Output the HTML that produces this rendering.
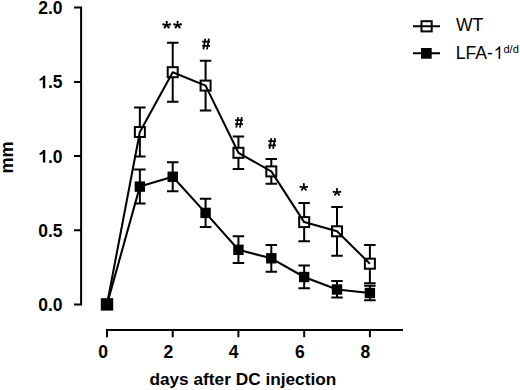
<!DOCTYPE html>
<html><head><meta charset="utf-8"><style>
html,body{margin:0;padding:0;background:#fff;}
svg{display:block;}
text{font-family:"Liberation Sans",sans-serif;fill:#000;}
.b{font-weight:bold;}
</style></head><body>
<svg width="520" height="390" viewBox="0 0 520 390">
<g stroke="#000" stroke-width="2.00" fill="none" stroke-linecap="butt">
<path d="M74 7.5H81.1V305.5 M74 81.9H81.1 M74 156.1H81.1 M74 230.2H81.1 M74 304.4H81.1"/>
<path d="M107 337.3V330.1H403 M172.7 330.1V337.3 M238.4 330.1V337.3 M304.2 330.1V337.3 M369.9 330.1V337.3"/>
<path d="M139.86 107.50V156.40 M134.11 107.50H145.61 M134.11 156.40H145.61"/>
<path d="M172.72 42.80V101.70 M166.97 42.80H178.47 M166.97 101.70H178.47"/>
<path d="M205.58 60.80V110.40 M199.83 60.80H211.33 M199.83 110.40H211.33"/>
<path d="M238.44 136.60V168.90 M232.69 136.60H244.19 M232.69 168.90H244.19"/>
<path d="M271.30 159.00V183.80 M265.55 159.00H277.05 M265.55 183.80H277.05"/>
<path d="M304.16 203.00V241.20 M298.41 203.00H309.91 M298.41 241.20H309.91"/>
<path d="M337.02 207.00V255.70 M331.27 207.00H342.77 M331.27 255.70H342.77"/>
<path d="M369.88 245.00V283.30 M364.13 245.00H375.63 M364.13 283.30H375.63"/>
<path d="M139.86 169.60V203.60 M134.11 169.60H145.61 M134.11 203.60H145.61"/>
<path d="M172.72 162.20V191.30 M166.97 162.20H178.47 M166.97 191.30H178.47"/>
<path d="M205.58 198.80V227.00 M199.83 198.80H211.33 M199.83 227.00H211.33"/>
<path d="M238.44 236.20V262.90 M232.69 236.20H244.19 M232.69 262.90H244.19"/>
<path d="M271.30 244.90V271.80 M265.55 244.90H277.05 M265.55 271.80H277.05"/>
<path d="M304.16 265.60V288.20 M298.41 265.60H309.91 M298.41 288.20H309.91"/>
<path d="M337.02 281.10V297.40 M331.27 281.10H342.77 M331.27 297.40H342.77"/>
<path d="M369.88 285.70V300.30 M364.13 285.70H375.63 M364.13 300.30H375.63"/>
</g>
<rect x="134.86" y="127.00" width="10.00" height="10.00" fill="#fff" stroke="#000" stroke-width="2.00"/>
<rect x="167.72" y="67.20" width="10.00" height="10.00" fill="#fff" stroke="#000" stroke-width="2.00"/>
<rect x="200.58" y="80.60" width="10.00" height="10.00" fill="#fff" stroke="#000" stroke-width="2.00"/>
<rect x="233.44" y="147.80" width="10.00" height="10.00" fill="#fff" stroke="#000" stroke-width="2.00"/>
<rect x="266.30" y="166.40" width="10.00" height="10.00" fill="#fff" stroke="#000" stroke-width="2.00"/>
<rect x="299.16" y="217.10" width="10.00" height="10.00" fill="#fff" stroke="#000" stroke-width="2.00"/>
<rect x="332.02" y="226.30" width="10.00" height="10.00" fill="#fff" stroke="#000" stroke-width="2.00"/>
<rect x="364.88" y="258.70" width="10.00" height="10.00" fill="#fff" stroke="#000" stroke-width="2.00"/>
<rect x="134.66" y="181.40" width="10.40" height="10.40" fill="#000"/>
<rect x="167.52" y="171.60" width="10.40" height="10.40" fill="#000"/>
<rect x="200.38" y="207.70" width="10.40" height="10.40" fill="#000"/>
<rect x="233.24" y="244.60" width="10.40" height="10.40" fill="#000"/>
<rect x="266.10" y="253.10" width="10.40" height="10.40" fill="#000"/>
<rect x="298.96" y="271.80" width="10.40" height="10.40" fill="#000"/>
<rect x="331.82" y="284.30" width="10.40" height="10.40" fill="#000"/>
<rect x="364.68" y="287.80" width="10.40" height="10.40" fill="#000"/>
<rect x="100.80" y="298.20" width="12.4" height="12.4" fill="#000"/>
<polyline fill="none" stroke="#000" stroke-width="2.05" stroke-linejoin="round" points="107.00,304.40 139.86,132.00 172.72,72.20 205.58,85.60 238.44,152.80 271.30,171.40 304.16,222.10 337.02,231.30 369.88,263.70"/>
<polyline fill="none" stroke="#000" stroke-width="2.05" stroke-linejoin="round" points="107.00,304.40 139.86,186.60 172.72,176.80 205.58,212.90 238.44,249.80 271.30,258.30 304.16,277.00 337.02,289.50 369.88,293.00"/>
<g stroke="#000" stroke-width="2">
<rect x="421.5" y="21.2" width="10.2" height="10.2" fill="#fff"/>
<path d="M413 26.3H440 M413 53.2H440"/>
</g>
<rect x="421" y="48" width="10.7" height="10.7" fill="#000"/>
<g class="b" font-size="17.5" text-anchor="end">
<text x="62.5" y="14">2.0</text>
<text x="62.5" y="88.3">.5</text>
<text x="62.5" y="162.5">.0</text>
<text x="62.5" y="236.7">0.5</text>
<text x="62.5" y="310.9">0.0</text>
</g>
<path d="M830 0L549 0L549 1053Q400 920 165 880L165 1100Q285 1140 413 1239Q541 1338 589 1466L830 1466Z" fill="#000" transform="translate(38.17 88.30) scale(0.00854 -0.00854)"/><path d="M830 0L549 0L549 1053Q400 920 165 880L165 1100Q285 1140 413 1239Q541 1338 589 1466L830 1466Z" fill="#000" transform="translate(38.17 162.50) scale(0.00854 -0.00854)"/>
<g class="b" font-size="17.5" text-anchor="middle">
<text x="103.2" y="357.5">0</text>
<text x="168.4" y="357.5">2</text>
<text x="233.7" y="357.5">4</text>
<text x="299.9" y="357.5">6</text>
<text x="365.3" y="357.5">8</text>
</g>
<text class="b" font-size="17.25" x="149.4" y="385">days after DC injection</text>
<text class="b" font-size="18" transform="translate(12.6,157.4) rotate(-90)" text-anchor="middle">mm</text>
<path d="M166.70 25.10l0.00 -3.30 M166.70 25.10l-3.35 -0.72 M166.70 25.10l3.35 -0.72 M166.70 25.10l-2.00 2.30 M166.70 25.10l2.00 2.30 M177.60 25.10l0.00 -3.30 M177.60 25.10l-3.35 -0.72 M177.60 25.10l3.35 -0.72 M177.60 25.10l-2.00 2.30 M177.60 25.10l2.00 2.30 M303.80 187.40l0.00 -3.30 M303.80 187.40l-3.35 -0.72 M303.80 187.40l3.35 -0.72 M303.80 187.40l-2.00 2.30 M303.80 187.40l2.00 2.30 M337.00 192.40l0.00 -3.30 M337.00 192.40l-3.35 -0.72 M337.00 192.40l3.35 -0.72 M337.00 192.40l-2.00 2.30 M337.00 192.40l2.00 2.30" stroke="#000" stroke-width="1.6" fill="none"/><g fill="#000"><circle cx="166.70" cy="21.80" r="1.05"/><circle cx="163.35" cy="24.38" r="1.05"/><circle cx="170.05" cy="24.38" r="1.05"/><circle cx="164.70" cy="27.40" r="1.05"/><circle cx="168.70" cy="27.40" r="1.05"/><circle cx="177.60" cy="21.80" r="1.05"/><circle cx="174.25" cy="24.38" r="1.05"/><circle cx="180.95" cy="24.38" r="1.05"/><circle cx="175.60" cy="27.40" r="1.05"/><circle cx="179.60" cy="27.40" r="1.05"/><circle cx="303.80" cy="184.10" r="1.05"/><circle cx="300.45" cy="186.68" r="1.05"/><circle cx="307.15" cy="186.68" r="1.05"/><circle cx="301.80" cy="189.70" r="1.05"/><circle cx="305.80" cy="189.70" r="1.05"/><circle cx="337.00" cy="189.10" r="1.05"/><circle cx="333.65" cy="191.68" r="1.05"/><circle cx="340.35" cy="191.68" r="1.05"/><circle cx="335.00" cy="194.70" r="1.05"/><circle cx="339.00" cy="194.70" r="1.05"/></g><path d="M205.30 38.70L203.40 49.30 M208.90 38.70L207.00 49.30 M202.20 41.70H210.00 M202.20 45.85H210.00 M238.20 117.05L236.30 127.65 M241.80 117.05L239.90 127.65 M235.10 120.05H242.90 M235.10 124.20H242.90 M271.40 138.15L269.50 148.75 M275.00 138.15L273.10 148.75 M268.30 141.15H276.10 M268.30 145.30H276.10" stroke="#000" stroke-width="1.75" fill="none"/>
<text font-size="17.6" x="456" y="31.2">WT</text>
<text font-size="17.6" x="455.7" y="58.9">LFA-</text>
<path d="M740 0L560 0L560 1147Q495 1085 390 1023Q285 961 201 930L201 1104Q352 1175 465 1276Q578 1377 625 1466L740 1466Z" fill="#000" transform="translate(493.84 58.90) scale(0.00859 -0.00859)"/>
<text font-size="11" x="503.5" y="53.1">d/d</text>
</svg>
</body></html>
